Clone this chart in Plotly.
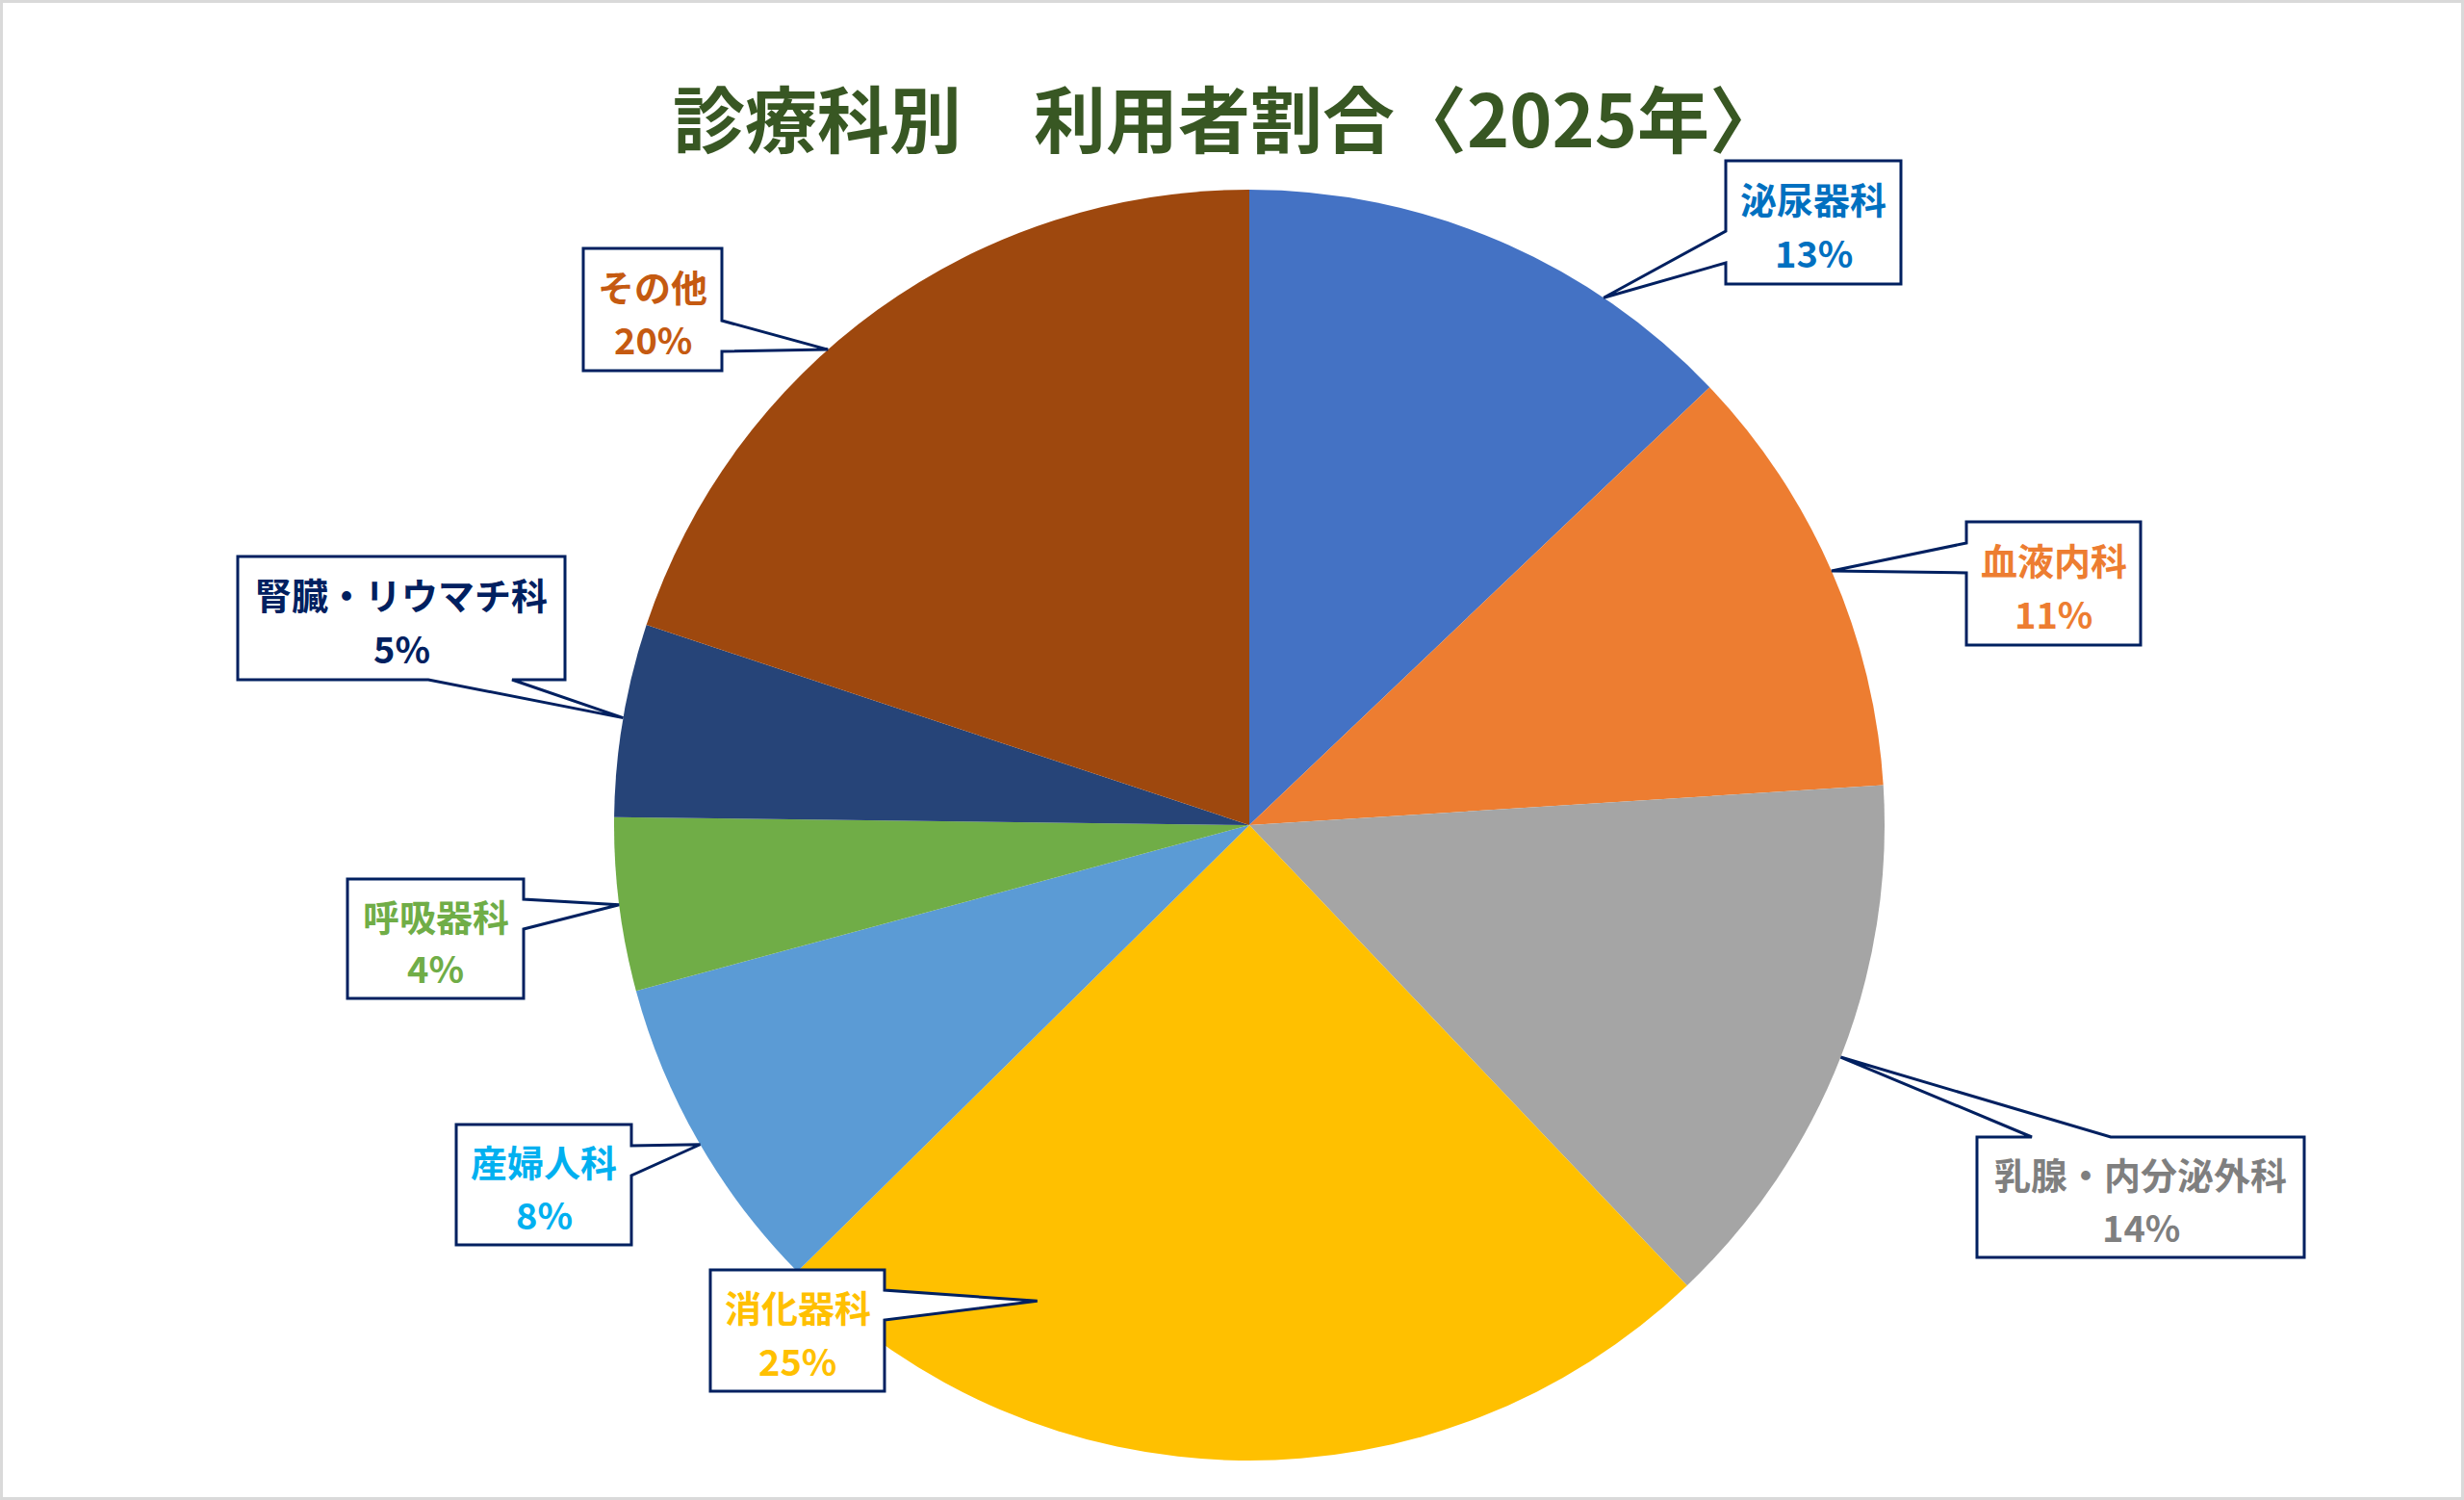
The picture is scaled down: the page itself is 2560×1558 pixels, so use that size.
import plotly.graph_objects as go
import math

# data (share of patients, %)
departments = ["泌尿器科", "血液内科", "乳腺・内分泌外科", "消化器科",
               "産婦人科", "呼吸器科", "腎臓・リウマチ科", "その他"]
patients = [12.9, 11.1, 13.9, 24.7, 8.2, 4.4, 4.9, 19.9]
chart_title = "診療科別　利用者割合〈2025年〉"

slice_colors = ["#4472C4", "#ED7D31", "#A5A5A5", "#FFC000",
                "#5B9BD5", "#70AD47", "#264478", "#9E480E"]
label_colors = ["#0070C0", "#ED7D31", "#7F7F7F", "#FFC000",
                "#00B0F0", "#70AD47", "#002060", "#C55A11"]

W, H = 2560, 1558
FONT = "Noto Sans CJK JP, Noto Sans, sans-serif"
BORDER = "#002060"

# pie placement in pixels
cx, cy, R = 1298, 857, 660

# callout boxes: (x0, y0, x1, y1), wedge side, wedge base (from, to), tip position in slice, tip radius
callouts = [
    ((1793, 167, 1975, 295), "left", (240, 273), 0.73, 1.0),
    ((2043, 542, 2224, 670), "left", (564, 595), 0.50, 1.0),
    ((2054, 1181, 2394, 1306), "top", (2111, 2193), 0.50, 1.0),
    ((738, 1319, 919, 1445), "right", (1340, 1371), 0.76, 0.82),
    ((474, 1168, 656, 1293), "right", (1190, 1221), 0.49, 1.0),
    ((361, 913, 544, 1037), "right", (934, 965), 0.50, 1.0),
    ((247, 578, 587, 706), "bottom", (445, 532), 0.51, 1.0),
    ((606, 258, 750, 385), "right", (333, 365), 0.42, 1.0),
]


def px(x, y):
    return x / W, 1 - y / H


def callout_path(box, side, base, tip):
    x0, y0, x1, y1 = box
    a, b = base
    pts = [(x0, y0)]
    if side == "top":
        pts += [(a, y0), tip, (b, y0)]
    pts.append((x1, y0))
    if side == "right":
        pts += [(x1, a), tip, (x1, b)]
    pts.append((x1, y1))
    if side == "bottom":
        pts += [(b, y1), tip, (a, y1)]
    pts.append((x0, y1))
    if side == "left":
        pts += [(x0, b), tip, (x0, a)]
    coords = [px(x, y) for x, y in pts]
    return "M " + " L ".join(f"{u:.5f},{v:.5f}" for u, v in coords) + " Z"


total = sum(patients)
fig = go.Figure(go.Pie(
    labels=departments,
    values=patients,
    sort=False,
    direction="clockwise",
    rotation=0,
    marker=dict(colors=slice_colors, line=dict(width=0)),
    textinfo="none",
    hoverinfo="label+percent",
    showlegend=False,
    domain=dict(x=[(cx - R) / W, (cx + R) / W], y=[1 - (cy + R) / H, 1 - (cy - R) / H]),
))

shapes = [dict(type="rect", xref="paper", yref="paper", x0=0.0006, y0=0.001, x1=0.9994, y1=0.999,
               line=dict(color="#D9D9D9", width=3))]
annotations = []
cum = 0
for name, val, col, (box, side, base, frac, rr) in zip(departments, patients, label_colors, callouts):
    ang = math.radians(360 * (cum + frac * val) / total)
    cum += val
    tip = (cx + rr * R * math.sin(ang), cy - rr * R * math.cos(ang))
    shapes.append(dict(type="path", xref="paper", yref="paper", path=callout_path(box, side, base, tip),
                       fillcolor="white", line=dict(color=BORDER, width=3), layer="above"))
    x0, y0, x1, y1 = box
    mx = (x0 + x1) / 2
    for txt, dy in [(name, 0.30), (f"{val / total * 100:.0f}%", 0.74)]:
        u, v = px(mx, y0 + dy * (y1 - y0))
        annotations.append(dict(x=u, y=v, xref="paper", yref="paper", text=f"<b>{txt}</b>",
                                showarrow=False, xanchor="center", yanchor="middle",
                                font=dict(family=FONT, size=38, color=col)))

fig.update_layout(
    width=W, height=H,
    margin=dict(l=0, r=0, t=0, b=0),
    paper_bgcolor="white",
    title=dict(text=f"<b>{chart_title}</b>", x=1275 / W, y=1 - 127 / H,
               xanchor="center", yanchor="middle",
               font=dict(family=FONT, size=75, color="#385723")),
    shapes=shapes,
    annotations=annotations,
)

fig.write_html("out.html", config={"displayModeBar": False},
               post_script="document.body.style.margin='0';")
